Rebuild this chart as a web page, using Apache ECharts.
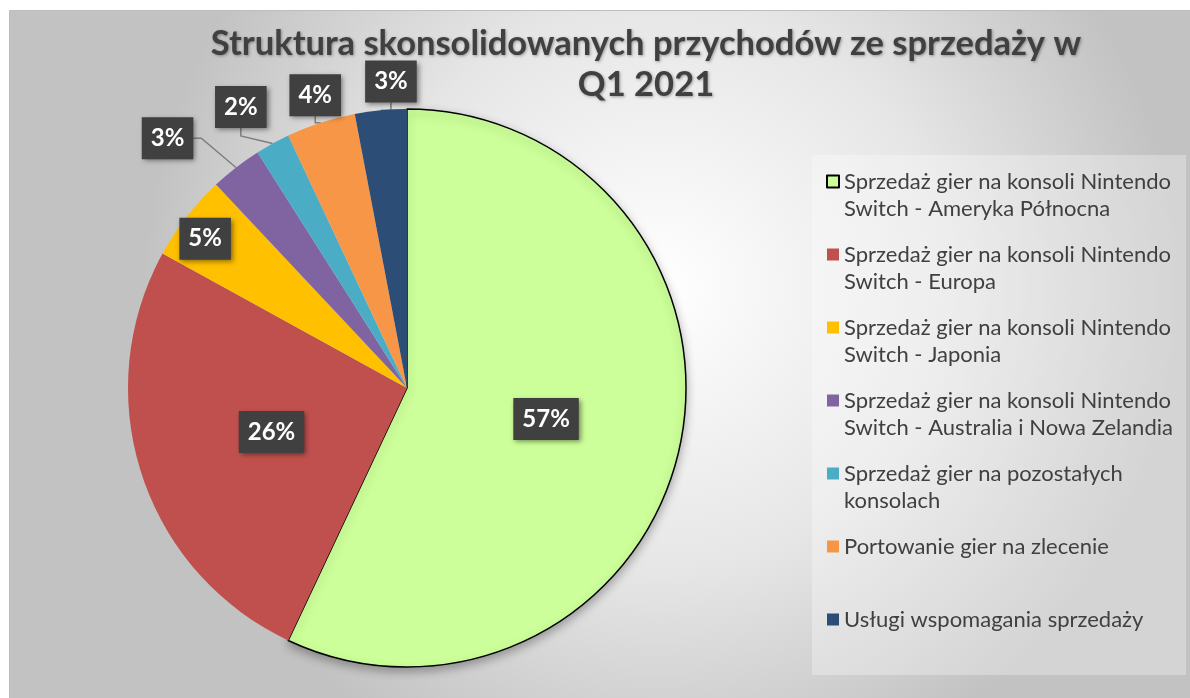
<!DOCTYPE html>
<html>
<head>
<meta charset="utf-8">
<script src="https://cdn.jsdelivr.net/npm/echarts@6/dist/echarts.min.js"></script>
<style>
  html, body { margin: 0; padding: 0; background: #fff; }
  #chart { width: 1190px; height: 698px; }
</style>
</head>
<body>
<div id="chart"></div>
<script>
// dane
const categories = [
  'Sprzedaż gier na konsoli Nintendo Switch - Ameryka Północna',
  'Sprzedaż gier na konsoli Nintendo Switch - Europa',
  'Sprzedaż gier na konsoli Nintendo Switch - Japonia',
  'Sprzedaż gier na konsoli Nintendo Switch - Australia i Nowa Zelandia',
  'Sprzedaż gier na pozostałych konsolach',
  'Portowanie gier na zlecenie',
  'Usługi wspomagania sprzedaży'
];
const legendLines = [
  'Sprzedaż gier na konsoli Nintendo\nSwitch - Ameryka Północna',
  'Sprzedaż gier na konsoli Nintendo\nSwitch - Europa',
  'Sprzedaż gier na konsoli Nintendo\nSwitch - Japonia',
  'Sprzedaż gier na konsoli Nintendo\nSwitch - Australia i Nowa Zelandia',
  'Sprzedaż gier na pozostałych\nkonsolach',
  'Portowanie gier na zlecenie\n ',
  'Usługi wspomagania sprzedaży\n '
];
const shares = [57, 26, 5, 3, 2, 4, 3];
const colors = ['#ccff99', '#c0504d', '#ffc000', '#8064a2', '#4bacc6', '#f79646', '#2c4d75'];

// rozmieszczenie etykiet małych wycinków: [mnożnik promienia, przesunięcie kąta w stopniach]
const labelPlace = [null, null, [0.9, -1.3], [1.24, -6], [1.17, -1.8], [1.10, 0.6], [1.10, 2.4]];

const pieCenter = [407, 388];
const pieRadius = 279;

const chart = echarts.init(document.getElementById('chart'));

const total = shares.reduce((a, b) => a + b, 0);
const data = shares.map((v, i) => {
  const item = { name: categories[i], value: v, itemStyle: { color: colors[i] } };
  if (i === 0) {
    item.itemStyle.borderColor = '#000';
    item.itemStyle.borderWidth = 1.5;
    item.itemStyle.shadowColor = 'rgba(0,0,0,0.3)';
    item.itemStyle.shadowBlur = 10;
    item.itemStyle.shadowOffsetY = 4;
  }
  if (i >= 2) {
    item.label = { position: 'outside' };
    item.labelLine = { show: i !== 2 };
  }
  return item;
});

const options = {
  animation: false,
  graphic: [
    {
      type: 'rect',
      z: -10,
      shape: { x: 9.5, y: 10.5, width: 1185, height: 690 },
      style: {
        fill: {
          type: 'radial', x: 0.55, y: 0.4, r: 0.75,
          colorStops: [
            { offset: 0, color: '#ffffff' },
            { offset: 0.55, color: '#e6e6e6' },
            { offset: 1, color: '#c2c2c2' }
          ]
        },
        stroke: '#bdbdbd', lineWidth: 1
      }
    },
    {
      type: 'rect',
      z: -5,
      shape: { x: 812, y: 155, width: 374, height: 520 },
      style: { fill: 'rgba(255,255,255,0.3)' }
    }
  ],
  title: {
    text: 'Struktura skonsolidowanych przychodów ze sprzedaży w\nQ1 2021',
    left: 646,
    top: 23,
    textAlign: 'center',
    padding: 0,
    textStyle: {
      fontFamily: 'Lato',
      fontWeight: 'bold',
      fontSize: 34.5,
      lineHeight: 41,
      color: '#404040',
      textShadowColor: 'rgba(0,0,0,0.35)',
      textShadowBlur: 3,
      textShadowOffsetX: 1,
      textShadowOffsetY: 1
    }
  },
  legend: {
    orient: 'vertical',
    left: 826,
    top: 168,
    padding: 0,
    itemGap: 19,
    itemWidth: 12,
    itemHeight: 39,
    // kwadrat przy pierwszym wierszu opisu
    icon: 'path://M0,0H12V12H0Z M0,39H0',
    data: categories,
    formatter: function (name) {
      return legendLines[categories.indexOf(name)];
    },
    textStyle: {
      fontFamily: 'Lato',
      fontSize: 22,
      lineHeight: 27,
      color: '#404040'
    }
  },
  series: [
    {
      type: 'pie',
      center: pieCenter,
      radius: pieRadius,
      startAngle: 90,
      clockwise: true,
      data: data,
      label: {
        position: 'inside',
        formatter: function (p) { return Math.round(p.percent) + '%'; },
        fontFamily: 'Lato',
        fontWeight: 'bold',
        fontSize: 24,
        lineHeight: 28,
        color: '#ffffff',
        backgroundColor: '#404040',
        padding: [7, 9],
        shadowColor: 'rgba(0,0,0,0.45)',
        shadowBlur: 5,
        shadowOffsetX: 2,
        shadowOffsetY: 2
      },
      labelLine: {
        show: true,
        length: 10,
        length2: 8,
        lineStyle: { color: '#7f7f7f', width: 1.5 }
      },
      labelLayout: function (p) {
        const place = labelPlace[p.dataIndex];
        if (!place) return {};
        let before = 0;
        for (let i = 0; i < p.dataIndex; i++) before += shares[i];
        const mid = (before + shares[p.dataIndex] / 2) / total * 360 + place[1];
        const a = mid * Math.PI / 180;
        const r = pieRadius * place[0];
        return {
          x: pieCenter[0] + Math.sin(a) * r,
          y: pieCenter[1] - Math.cos(a) * r,
          align: 'center',
          verticalAlign: 'middle'
        };
      }
    }
  ]
};

chart.setOption(options);
window.addEventListener('resize', function () {
  chart && chart.resize();
});
</script>
</body>
</html>
